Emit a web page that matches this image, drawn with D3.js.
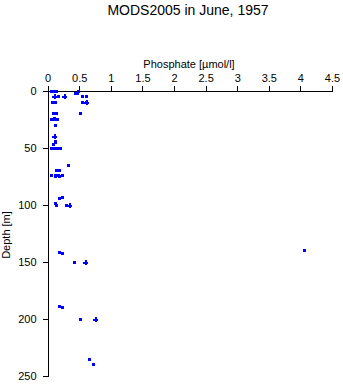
<!DOCTYPE html>
<html><head><meta charset="utf-8">
<script src="https://cdn.jsdelivr.net/npm/d3@7"></script>
<style>body{margin:0;background:#fff}svg{display:block}text{font-family:"Liberation Sans",Arial,sans-serif}</style>
</head><body>
<svg id="c" width="343" height="384"></svg>
<script>
const title = "MODS2005 in June, 1957";
const xLabel = "Phosphate [µmol/l]";
const yLabel = "Depth [m]";
const xTicks = [0,0.5,1,1.5,2,2.5,3,3.5,4,4.5];
const yTicks = [0,50,100,150,200,250];
// square markers: [phosphate, depth]
const phosphateSq = [0.05,0.1,0.13,0.48,0.44,0.46,0.17,0.55,0.6,0.07,0.12,0.55,0.6,0.51,0.08,0.13,0.05,0.1,0.15,0.1,0.11,0.12,0.12,0.09,0.05,0.1,0.15,0.2,0.33,0.13,0.18,0.06,0.12,0.17,0.22,0.12,0.18,0.18,0.22,0.12,0.14,0.29,0.18,0.22,0.42,0.18,0.22,0.52,0.66,0.72,4.05];
const depthSq     = [0,0,0,0,2,2.5,5,5,5,10,10,10,10,20,20,20,25,25,25,24,30,44,45,47,50,50,50,50,65,70,70,74,74,74,74,75,75,94.5,93.3,98.5,100,100,141.4,142.3,150,188.4,189.3,200,235.4,239.5,140];
// cross markers: [phosphate, depth]
const phosphateX = [0.1,0.26,0.6,0.1,0.34,0.59,0.75];
const depthX     = [5,5,10,40,100,150,200];

const svg = d3.select("#c");
const x = d3.scaleLinear().domain([0,4.5]).range([47.6,332]);
const y = d3.scaleLinear().domain([0,250]).range([90.5,376]);

svg.append("text").attr("x",188).attr("y",15).attr("text-anchor","middle")
  .attr("font-size",14).text(title);
svg.append("text").attr("x",189).attr("y",68).attr("text-anchor","middle")
  .attr("font-size",11).text(xLabel);
svg.append("text").attr("transform","translate(10,235) rotate(-90)").attr("text-anchor","middle")
  .attr("font-size",11).text(yLabel);

const gx = svg.append("g").attr("transform","translate(0,90.5)")
  .call(d3.axisTop(x).tickValues(xTicks).tickSize(5).tickPadding(4).tickSizeOuter(0).tickFormat(d=>String(d)));
const gy = svg.append("g").attr("transform","translate(47.6,0)")
  .call(d3.axisLeft(y).tickValues(yTicks).tickSize(5).tickPadding(6).tickSizeOuter(0));
[gx,gy].forEach(g=>{
  g.selectAll("path,line").attr("stroke","#000").attr("stroke-width",1).attr("shape-rendering","crispEdges");
  g.selectAll("text").attr("font-size",11).attr("fill","#000").style("font-family","'Liberation Sans',Arial,sans-serif");
});

const sq = phosphateSq.map((p,i)=>({p,d:depthSq[i]}));
svg.append("g").selectAll("rect").data(sq).join("rect")
  .attr("x",d=>Math.round(x(d.p))-1.5).attr("y",d=>Math.round(y(d.d))-1.5)
  .attr("width",3).attr("height",3).attr("fill","#0000ff").attr("shape-rendering","crispEdges");
const cr = phosphateX.map((p,i)=>({p,d:depthX[i]}));
const cg = svg.append("g").selectAll("g").data(cr).join("g")
  .attr("transform",d=>`translate(${Math.round(x(d.p))},${Math.round(y(d.d))})`);
cg.append("rect").attr("x",-2.5).attr("y",-0.5).attr("width",5).attr("height",2).attr("fill","#0000ff").attr("shape-rendering","crispEdges");
cg.append("rect").attr("x",-0.5).attr("y",-2).attr("width",2).attr("height",5).attr("fill","#0000ff").attr("shape-rendering","crispEdges");
</script>
</body></html>
